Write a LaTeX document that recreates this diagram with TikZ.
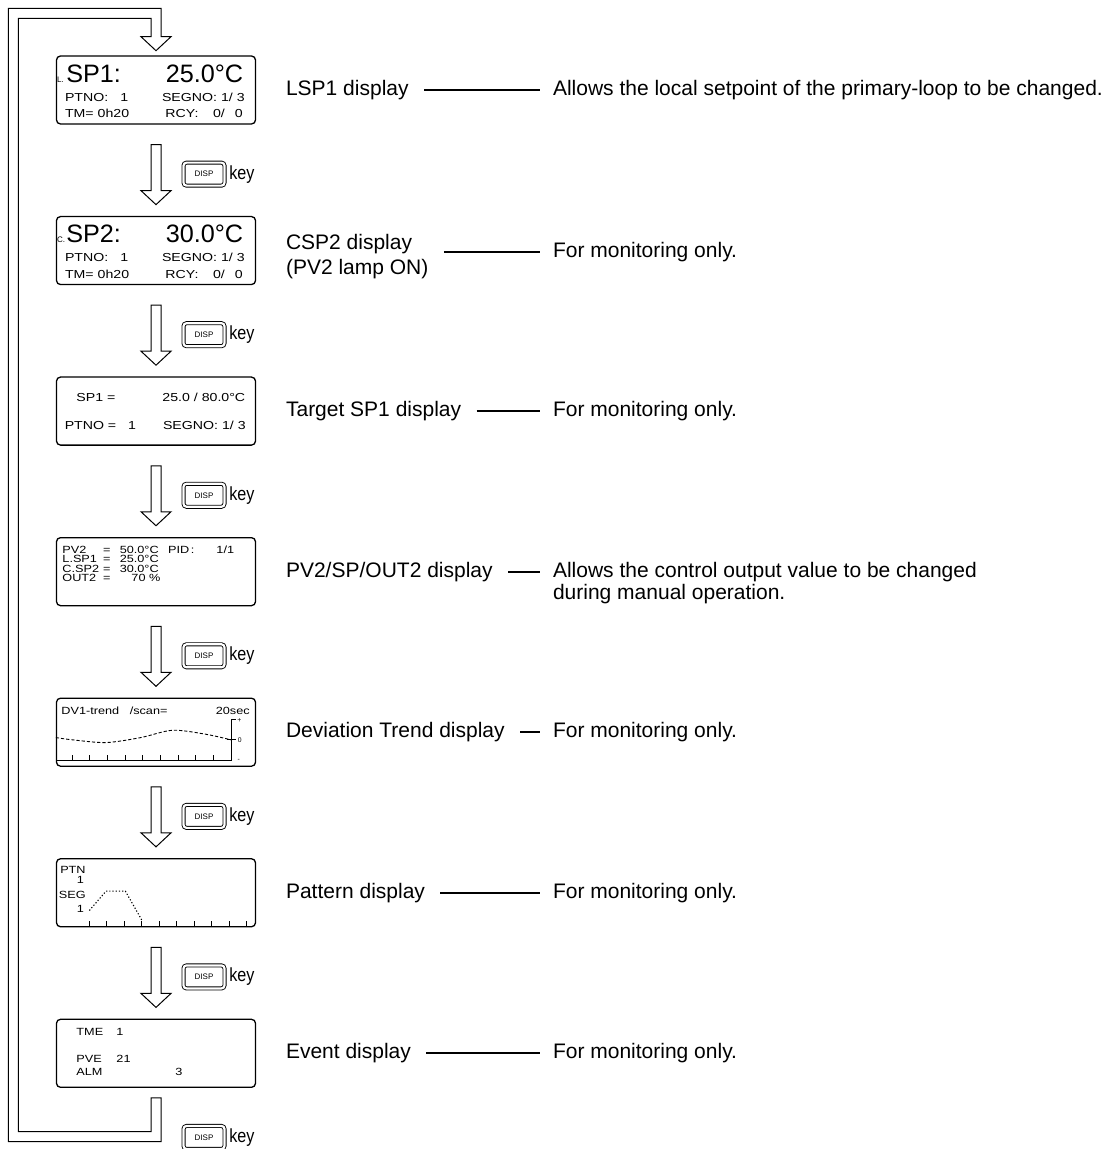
\documentclass[tikz,border=0pt]{standalone}
\usepackage{fontspec}
\setmainfont{Liberation Sans}
\newfontfamily\lcdfont[FakeStretch=1.22]{Liberation Sans}
\newfontfamily\keyfont[FakeStretch=0.85]{Liberation Sans}
\usetikzlibrary{calc,positioning}

\begin{document}
\begin{tikzpicture}[x=0.5pt,y=-0.5pt,
  screen/.style={draw,line width=0.65pt,rounded corners=2pt,minimum width=99.5pt,minimum height=34pt,inner sep=0pt},
  big/.style={inner sep=0pt,anchor=base west,font=\fontsize{12.6}{14}\selectfont},
  lcdm/.style={inner sep=0pt,anchor=base west,font=\lcdfont\fontsize{5.8}{6.5}\selectfont},
  lcd/.style={inner sep=0pt,anchor=base west,font=\lcdfont\fontsize{5.2}{6}\selectfont},
  tag/.style={inner sep=0pt,anchor=base west,font=\fontsize{4}{5}\selectfont},
  hollow/.style={draw,line width=0.5pt},
  dispkey/.style={draw,double,double distance=1.1pt,line width=0.45pt,rounded corners=1.5pt,minimum width=20.5pt,minimum height=11.5pt,inner sep=0pt,font=\fontsize{4}{5}\selectfont},
  keytext/.style={inner sep=0pt,font=\keyfont\fontsize{9.5}{10}\selectfont},
  lab/.style={inner sep=0pt,anchor=west,align=left,font=\fontsize{10.5}{12.5}\selectfont},
  leader/.style={line width=0.9pt,shorten <=7.5pt,shorten >=6.5pt}]
\useasboundingbox (0,0) rectangle (1116,1149);

% the seven screens with their DISP key
\foreach \i in {1,...,7}
  {\node[screen] (s\i) at (156,{90+160.55*(\i-1)}) {};
   \node[dispkey] (k\i) at ($(s\i.south)+(48,49.5)$) {DISP};
   \node[keytext,right=2pt of k\i] (w\i) {key};}
\foreach \i in {1,...,6}
  {\draw[hollow] ($(s\i.south)+(-5,20)$) -- ++(0,46) -- ++(-10,0) -- ++(15,14) -- ++(15,-14) -- ++(-10,0) -- ++(0,-46) -- cycle;}
% back to the first screen
\draw[hollow] ($(s7.south)+(-5,10)$) -- ++(10,0) |- (8.3,1141.7) |- (161,8.3) -- (161,36.7) -- (171,36.7) -- (156,50.7) -- (141,36.7) -- (151,36.7) |- (18.3,18.3) |- (151,1131.7) -- cycle;

% LSP1 / CSP2
\foreach \i/\scrtag/\scrname/\scrval in {1/L./SP1:/25.0°C,2/C./SP2:/30.0°C}
  {\begin{scope}[shift={(s\i.north west)}]
   \node[tag] (s\i-c) at (0.8,27) {\scrtag};
   \node[big] (s\i-n) at (10,27) {\scrname};
   \node[big] (s\i-v) at (109.5,27) {\scrval};
   \node[lcdm] (s\i-p) at (8.8,45.7) {PTNO:};
   \node[lcdm] (s\i-q) at (64.2,45.7) {1};
   \node[lcdm] (s\i-g) at (105.8,45.7) {SEGNO: 1/ 3};
   \node[lcdm] (s\i-t) at (8.8,62.3) {TM= 0h20};
   \node[lcdm] (s\i-r) at (109.2,62.3) {RCY:};
   \node[lcdm] (s\i-a) at (156.8,62.3) {0/};
   \node[lcdm] (s\i-b) at (178.5,62.3) {0};
   \end{scope}}

% target SP1
\begin{scope}[shift={(s3.north west)}]
\node[lcdm] (s3-a) at (20.2,24.7) {SP1 =};
\node[lcdm] (s3-b) at (106.2,24.7) {25.0 / 80.0°C};
\node[lcdm] (s3-c) at (8.5,53.4) {PTNO =};
\node[lcdm] (s3-d) at (71.8,53.4) {1};
\node[lcdm] (s3-e) at (106.8,53.4) {SEGNO: 1/ 3};
\end{scope}

% PV2/SP/OUT2
\begin{scope}[shift={(s4.north west)}]
\foreach \y/\n/\x/\rowval [count=\r] in {16.3/PV2/63.5/50.0°C,25.8/L.SP1/63.5/25.0°C,35.3/C.SP2/63.5/30.0°C,44.8/OUT2/75.2/70 \%}
  {\node[lcd] (s4-n\r) at (6.2,\y) {\n};
   \node[lcd] (s4-e\r) at (46.8,\y) {=};
   \node[lcd] (s4-v\r) at (\x,\y) {\rowval};}
\node[lcd] (s4-p) at (111.8,16.3) {PID\,:};
\node[lcd] (s4-q) at (160.2,16.3) {1/1};
\end{scope}

% deviation trend
\begin{scope}[shift={(s5.north west)}]
\node[lcd] (s5-a) at (5.2,17.3) {DV1-trend};
\node[lcd] (s5-b) at (73.5,17.3) {/scan=};
\node[lcd,anchor=base east] (s5-c) at (194.2,17.3) {20sec};
\draw[line width=0.45pt,dash pattern=on 1.6pt off 1pt] plot[smooth] coordinates {(0,40) (16.8,42.3) (50.2,45) (85,40) (116.8,32.7) (150,36.7) (175.2,42.3)};
\draw[line width=0.45pt] (0,62.7) -- (175.2,62.7) -- (175.2,22.3) -- (180.2,22.3) (171.5,42.3) -- (180.2,42.3);
\foreach \k in {0,...,9} {\draw[line width=0.45pt] ({16.2+17.67*\k},62.7) -- ++(0,-5);}
\node[tag,anchor=center,font=\fontsize{3.4}{4}\selectfont] (s5-p) at (183.5,23) {+};
\node[tag,anchor=west,font=\fontsize{3.4}{4}\selectfont] (s5-z) at (181.5,42.3) {0};
\node[tag,anchor=center,font=\fontsize{3.4}{4}\selectfont] (s5-m) at (183,63) {-};
\end{scope}

% pattern
\begin{scope}[shift={(s6.north west)}]
\node[lcd,anchor=base east] (s6-a) at (30.2,15.7) {PTN};
\node[lcd,anchor=base east] (s6-b) at (28.5,25.7) {1};
\node[lcd,anchor=base east] (s6-c) at (30.2,40.7) {SEG};
\node[lcd,anchor=base east] (s6-d) at (28.5,54) {1};
\draw[line width=0.55pt,dash pattern=on 0.6pt off 1pt] (33.5,52.4) -- (50.2,33) -- (69.5,33) -- (86.2,62.4);
\foreach \k in {0,...,9} {\draw[line width=0.45pt] ({33.5+17.5*\k},68) -- ++(0,-5);}
\end{scope}

% event
\begin{scope}[shift={(s7.north west)}]
\foreach \x/\y/\t [count=\n] in {20.2/16.7/TME,60.2/16.7/1,20.2/44/PVE,60.2/44/21,20.2/56.7/ALM,119.2/56.7/3}
  {\node[lcd] (s7-t\n) at (\x,\y) {\t};}
\end{scope}

% names and what they do
\node[lab] (l1) at ($(s1.east)+(29.5,0)$) {LSP1 display};
\node[lab] (l2) at ($(s2.east)+(29.5,6)$) {CSP2 display\\(PV2 lamp ON)};
\node[lab] (l3) at ($(s3.east)+(29.5,0)$) {Target SP1 display};
\node[lab] (l4) at ($(s4.east)+(29.5,0)$) {PV2/SP/OUT2 display};
\node[lab] (l5) at ($(s5.east)+(29.5,0)$) {Deviation Trend display};
\node[lab] (l6) at ($(s6.east)+(29.5,0)$) {Pattern display};
\node[lab] (l7) at ($(s7.east)+(29.5,0)$) {Event display};
\node[lab] (d1) at ($(s1.east)+(296.5,0)$) {Allows the local setpoint of the primary-loop to be changed.};
\node[lab] (d2) at ($(s2.east)+(296.5,1.5)$) {For monitoring only.};
\node[lab] (d3) at ($(s3.east)+(296.5,0)$) {For monitoring only.};
\node[lab] (d4) at ($(s4.east)+(296.5,0)$) {Allows the control output value to be changed};
\node[lab] (d4x) at ($(d4.west)+(0,22)$) {during manual operation.};
\node[lab] (d5) at ($(s5.east)+(296.5,0)$) {For monitoring only.};
\node[lab] (d6) at ($(s6.east)+(296.5,0)$) {For monitoring only.};
\node[lab] (d7) at ($(s7.east)+(296.5,0)$) {For monitoring only.};
\foreach \i in {1,...,7}
  {\draw[leader] (l\i.east |- d\i.west) -- (d\i.west);}
\end{tikzpicture}
\end{document}
